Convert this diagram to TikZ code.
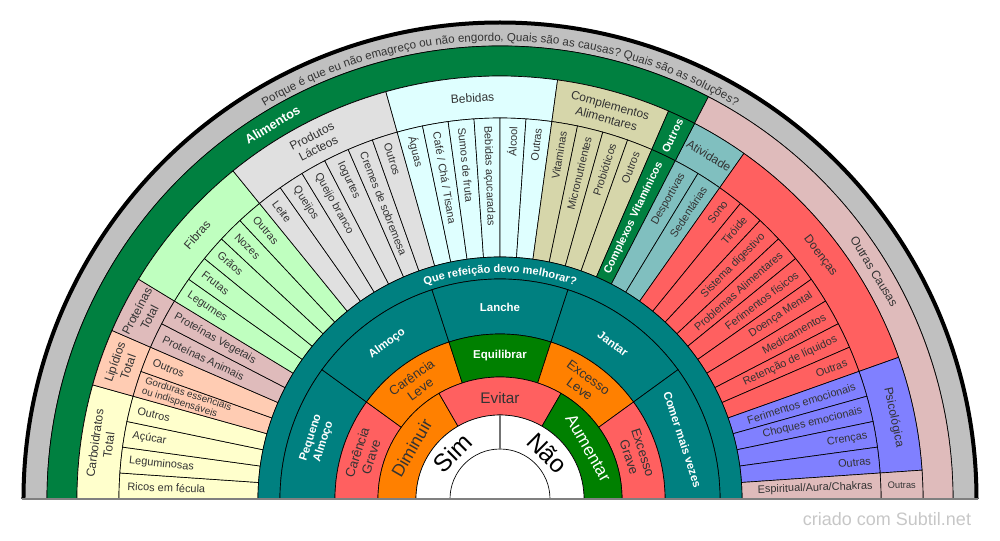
\documentclass[tikz,border=0pt]{standalone}
\usepackage{fontspec}
\setmainfont{Liberation Sans}
\usetikzlibrary{decorations.text}

\definecolor{txtgray}{HTML}{333333}
\definecolor{titlegray}{HTML}{C0C0C0}
\definecolor{alim}{HTML}{008040}
\definecolor{causas}{HTML}{DFBBBB}
\definecolor{carb}{HTML}{FFFFCC}
\definecolor{lip}{HTML}{FFCCB3}
\definecolor{prot}{HTML}{DFBBBB}
\definecolor{fib}{HTML}{BFFFBF}
\definecolor{lact}{HTML}{E0E0E0}
\definecolor{beb}{HTML}{DFFFFF}
\definecolor{comp}{HTML}{D6D6AA}
\definecolor{ativ}{HTML}{80BFBF}
\definecolor{doen}{HTML}{FF6060}
\definecolor{psic}{HTML}{8080FF}
\definecolor{meal}{HTML}{008080}
\definecolor{warn}{HTML}{FF8000}
\definecolor{okgreen}{HTML}{008000}

\def\u{3.9130435}

% annular sector: inner radius, outer radius, start angle, end angle, fill
\newcommand\sector[5]{%
  \filldraw[seg, fill=#5] (#3:#1) arc[start angle=#3, end angle=#4, radius=#1]
    -- (#4:#2) arc[start angle=#4, end angle=#3, radius=#2] -- cycle;}

\tikzset{
  seg/.style={draw=black, line width=0.5pt},
  item/.style={font=\fontsize{8.2}{9}\selectfont, text=txtgray, inner sep=0pt, align=left},
  itemw/.style={font=\bfseries\fontsize{8.2}{9}\selectfont, text=white, inner sep=0pt},
  group/.style={font=\fontsize{9}{10.5}\selectfont, text=txtgray, align=center, inner sep=0pt},
  mealtxt/.style={font=\bfseries\fontsize{8.6}{10}\selectfont, text=white, align=center, inner sep=0pt},
  level/.style={font=\fontsize{9.8}{11}\selectfont, text=txtgray, align=center, inner sep=0pt},
}

\begin{document}
\begin{tikzpicture}[x=0.75pt, y=0.75pt]
\useasboundingbox (-500,-41) rectangle (500,499);

% title ring
\sector{453}{477}{180}{0}{titlegray}
\path[decorate, decoration={text along path, text align=center,
  text={|\fontsize{8.7}{10}\selectfont\color{txtgray}|Porque é que eu não emagreço ou não engordo, Quais são as causas? Quais são as soluções?}}]
  (180:458) arc[start angle=180, end angle=0, radius=458];

% first level
\sector{423}{453}{180}{180-30*\u}{alim}
\sector{423}{453}{180-30*\u}{0}{causas}
\node[itemw, font=\bfseries\fontsize{9.6}{11}\selectfont, rotate=31.3] (alimentos) at (121.3:438) {Alimentos};
\node[group, rotate=-58.7] (outrascausas) at (31.3:438) {Outras Causas};

% second level
\foreach \a/\b/\col/\txt in {0/4/carb/{Carboidratos\\Total}, 4/6/lip/{Lipídios\\Total},
    6/8/prot/{Proteínas\\Total}, 8/13/fib/Fibras, 13/19/lact/{Produtos\\Lácteos},
    19/25/beb/Bebidas, 25/29/comp/{Complementos\\Alimentares}, 30/32/ativ/Atividade,
    32/41/doen/Doenças, 41/45/psic/Psicológica}{
  \pgfmathsetmacro\ta{180-\a*\u}
  \pgfmathsetmacro\tb{180-\b*\u}
  \pgfmathsetmacro\tm{180-(\a+\b)/2*\u}
  \sector{381}{423}{\ta}{\tb}{\col}
  \node[group, rotate=\tm-90] (grp\a) at (\tm:402) {\txt};
}
\sector{381}{423}{180-29*\u}{180-30*\u}{alim}
\node[itemw, font=\bfseries\fontsize{8.2}{9}\selectfont, rotate=64.57] (outros) at (64.57:402) {Outros};
\sector{381}{423}{180-45*\u}{0}{causas}
\node[item, font=\fontsize{7}{8}\selectfont, rotate=1.96] (outras) at (1.96:402) {Outras};

% leaves
\foreach \k/\col/\sty/\txt in {0/carb/item/Ricos em fécula, 1/carb/item/Leguminosas,
    2/carb/item/Açúcar, 3/carb/item/Outros, 4/lip/item/{}, 5/lip/item/Outros,
    6/prot/item/Proteínas Animais, 7/prot/item/Proteínas Vegetais,
    8/fib/item/Legumes, 9/fib/item/Frutas, 10/fib/item/Grãos, 11/fib/item/Nozes, 12/fib/item/Outras,
    13/lact/item/Leite, 14/lact/item/Queijos, 15/lact/item/Queijo branco, 16/lact/item/Iogurtes,
    17/lact/item/Cremes de sobremesa, 18/lact/item/Outros,
    19/beb/item/Águas, 20/beb/item/{Café / Chá / Tisana}, 21/beb/item/Sumos de fruta,
    22/beb/item/Bebidas açucaradas, 23/beb/item/Álcool, 24/beb/item/Outras,
    25/comp/item/Vitaminas, 26/comp/item/Micronutrientes, 27/comp/item/Probióticos, 28/comp/item/Outros,
    29/alim/itemw/Complexos Vitamínicos, 30/ativ/item/Desportivas, 31/ativ/item/Sedentárias,
    32/doen/item/Sono, 33/doen/item/Tiróide, 34/doen/item/Sistema digestivo,
    35/doen/item/Problemas Alimentares, 36/doen/item/Ferimentos físicos, 37/doen/item/Doença Mental,
    38/doen/item/Medicamentos, 39/doen/item/Retenção de líquidos, 40/doen/item/Outras,
    41/psic/item/Ferimentos emocionais, 42/psic/item/Choques emocionais, 43/psic/item/Crenças,
    44/psic/item/Outras, 45/causas/item/{Espiritual/Aura/Chakras}}{
  \pgfmathsetmacro\ta{180-\k*\u}
  \pgfmathsetmacro\tb{180-(\k+1)*\u}
  \pgfmathsetmacro\tm{180-(\k+0.5)*\u}
  \sector{242}{381}{\ta}{\tb}{\col}
  \ifdim\tm pt>90pt
    \node[\sty, rotate=\tm-180, anchor=west] (leaf\k) at (\tm:373) {\txt};
  \else
    \node[\sty, rotate=\tm, anchor=east] (leaf\k) at (\tm:373) {\txt};
  \fi
}
\node[item, font=\fontsize{7.4}{8}\selectfont, rotate=162.39-180, anchor=west] (gorduras) at (162.39:374) {Gorduras essenciais\\ou indispensáveis};

% meal question ring
\sector{220}{242}{180}{0}{meal}
\path[decorate, decoration={text along path, text align=center,
  text={|\bfseries\fontsize{8.3}{10}\selectfont\color{white}|Que refeição devo melhorar?}}]
  (180:226.5) arc[start angle=180, end angle=0, radius=226.5];

\foreach \i/\txt in {0/{Pequeno\\Almoço}, 1/Almoço, 2/Lanche, 3/Jantar, 4/Comer mais vezes}{
  \pgfmathsetmacro\ta{180-36*\i}
  \pgfmathsetmacro\tm{162-36*\i}
  \sector{165}{220}{\ta}{\ta-36}{meal}
  \node[mealtxt, rotate=\tm-90] (meal\i) at (\tm:192) {\txt};
}

\foreach \i/\col/\sty/\txt in {0/doen/level/{Carência\\Grave}, 1/warn/level/{Carência\\Leve},
    2/okgreen/mealtxt/Equilibrar, 3/warn/level/{Excesso\\Leve}, 4/doen/level/{Excesso\\Grave}}{
  \pgfmathsetmacro\ta{180-36*\i}
  \pgfmathsetmacro\tm{162-36*\i}
  \sector{122}{165}{\ta}{\ta-36}{\col}
  \node[\sty, rotate=\tm-90] (dose\i) at (\tm:143) {\txt};
}

\sector{84}{122}{180}{120}{warn}
\sector{84}{122}{120}{60}{doen}
\sector{84}{122}{60}{0}{okgreen}
\node[level, font=\fontsize{13}{15}\selectfont, rotate=60] (diminuir) at (150:102) {Diminuir};
\node[level, font=\fontsize{11.5}{13}\selectfont] (evitar) at (90:101) {Evitar};
\node[mealtxt, font=\fontsize{12.8}{15}\selectfont, rotate=-60] (aumentar) at (30:102) {Aumentar};

\sector{50}{84}{180}{90}{white}
\sector{50}{84}{90}{0}{white}
\draw[black!55, line width=1pt] (90:50) -- (90:84);
\node[font=\fontsize{18.5}{20}\selectfont, rotate=45] (sim) at (136:66) {Sim};
\node[font=\fontsize{18.5}{20}\selectfont, rotate=-45] (nao) at (44:66) {Não};

% outer border and base line
\draw[line width=3pt] (180:476.5) arc[start angle=180, end angle=0, radius=476.5];
\draw[gray, line width=1.5pt] (180:478) -- (0:478);

\node[text=black!22, font=\fontsize{13.5}{15}\selectfont] (credit) at (387,-20) {criado com Subtil.net};
\end{tikzpicture}
\end{document}
